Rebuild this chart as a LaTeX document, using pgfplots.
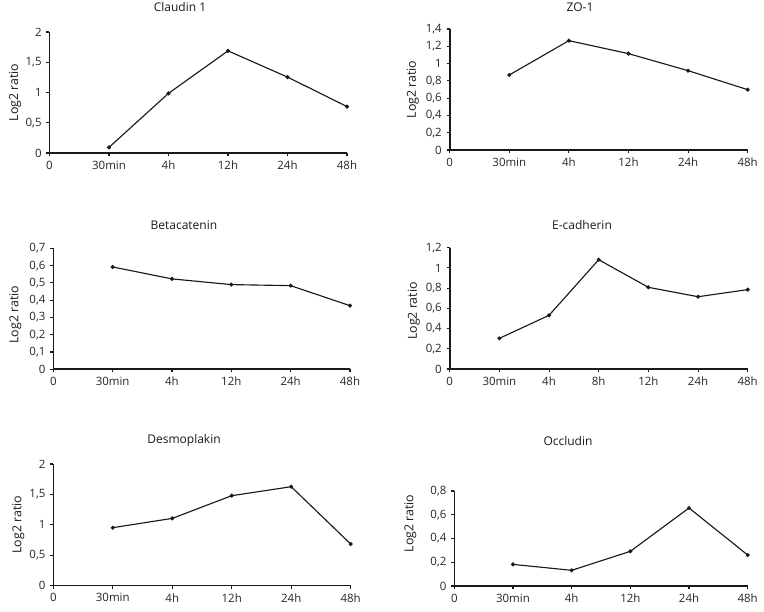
\documentclass[border=0pt]{standalone}
\usepackage{fontspec}
\setmainfont{Open Sans}
\usepackage{pgfplots}
\pgfplotsset{compat=1.18}
\pgfplotsset{
  panel/.style={
    scale only axis, anchor=south west,
    xmin=0, xmax=5, ymin=0,
    axis x line*=bottom, axis y line*=left,
    axis line style={line width=1.2pt, black!90, -},
    tick align=outside, major tick length=2.4pt,
    tick style={line width=0.8pt, black!90},
    xtick={0,...,5},
    xticklabels={0,30min,4h,12h,24h,48h},
    /pgf/number format/use comma,
    /pgf/number format/assume math mode=true,
    ticklabel style={font=\fontsize{8.6}{10}\selectfont, text=black!85},
    ylabel={Log2 ratio},
    ylabel style={font=\fontsize{9.3}{11}\selectfont, text=black!90},
    title style={font=\fontsize{9}{10}\selectfont, text=black!90, anchor=center},
    clip=false,
  },
  ser/.style={black!90, line width=0.85pt, mark=*, mark size=1.05pt, mark options={solid}},
}
\begin{document}
\begin{tikzpicture}
\useasboundingbox (0,0) rectangle (573pt,458.25pt);
% Claudin 1
\begin{axis}[panel, at={(37.125pt,343.5pt)}, width=223.125pt, height=90.75pt,
  ymax=2, ytick={0,0.5,1,1.5,2},
  title={Claudin 1}, title style={at={([xshift=-13.7pt,yshift=12.75pt]axis description cs:0.5,1)}},
  ylabel style={at={([xshift=-25.9pt]axis description cs:0,0.5)}, anchor=center}]
\addplot[ser] coordinates {(1,0.093) (2,0.986) (3,1.688) (4,1.255) (5,0.767)};
\end{axis}
% ZO-1
\begin{axis}[panel, at={(337.275pt,345.75pt)}, width=223.5pt, height=90.75pt,
  ymax=1.4, ytick={0,0.2,0.4,0.6,0.8,1,1.2,1.4},
  title={ZO-1}, title style={at={([xshift=-14pt,yshift=10.5pt]axis description cs:0.5,1)}},
  ylabel style={at={([xshift=-27.75pt]axis description cs:0,0.5)}, anchor=center}]
\addplot[ser] coordinates {(1,0.868) (2,1.265) (3,1.115) (4,0.918) (5,0.698)};
\end{axis}
% Betacatenin
\begin{axis}[panel, at={(39.975pt,181.275pt)}, width=222.525pt, height=90.75pt,
  ymax=0.7, ytick={0,0.1,0.2,0.3,0.4,0.5,0.6,0.7},
  title={Betacatenin}, title style={at={([xshift=-13.3pt,yshift=11.7pt]axis description cs:0.5,1)}},
  ylabel style={at={([xshift=-28.5pt,yshift=-4.5pt]axis description cs:0,0.5)}, anchor=center}]
\addplot[ser] coordinates {(1,0.592) (2,0.523) (3,0.490) (4,0.484) (5,0.368)};
\end{axis}
% E-cadherin
\begin{axis}[panel, at={(337.275pt,181.5pt)}, width=223.5pt, height=90.975pt,
  xmax=6, xtick={0,...,6}, xticklabels={0,30min,4h,8h,12h,24h,48h},
  ymax=1.2, ytick={0,0.2,0.4,0.6,0.8,1,1.2},
  title={E-cadherin}, title style={at={([xshift=-12.5pt,yshift=11.25pt]axis description cs:0.5,1)}},
  ylabel style={at={([xshift=-27pt,yshift=-2pt]axis description cs:0,0.5)}, anchor=center}]
\addplot[ser] coordinates {(1,0.303) (2,0.531) (3,1.081) (4,0.808) (5,0.715) (6,0.785)};
\end{axis}
% Desmoplakin
\begin{axis}[panel, at={(39.975pt,19.2pt)}, width=223.05pt, height=91.05pt,
  ymax=2, ytick={0,0.5,1,1.5,2},
  title={Desmoplakin}, title style={at={([xshift=-13.5pt,yshift=11.5pt]axis description cs:0.5,1)}},
  ylabel style={at={([xshift=-26.25pt]axis description cs:0,0.5)}, anchor=center}]
\addplot[ser] coordinates {(1,0.951) (2,1.104) (3,1.478) (4,1.626) (5,0.681)};
\end{axis}
% Occludin
\begin{axis}[panel, at={(340.725pt,18.75pt)}, width=220.05pt, height=71.25pt,
  ymax=0.8, ytick={0,0.2,0.4,0.6,0.8},
  title={Occludin}, title style={at={([xshift=-24.75pt,yshift=31.5pt]axis description cs:0.5,1)}},
  ylabel style={at={([xshift=-33pt,yshift=11.25pt]axis description cs:0,0.5)}, anchor=center}]
\addplot[ser] coordinates {(1,0.182) (2,0.132) (3,0.292) (4,0.657) (5,0.261)};
\end{axis}
\end{tikzpicture}
\end{document}
